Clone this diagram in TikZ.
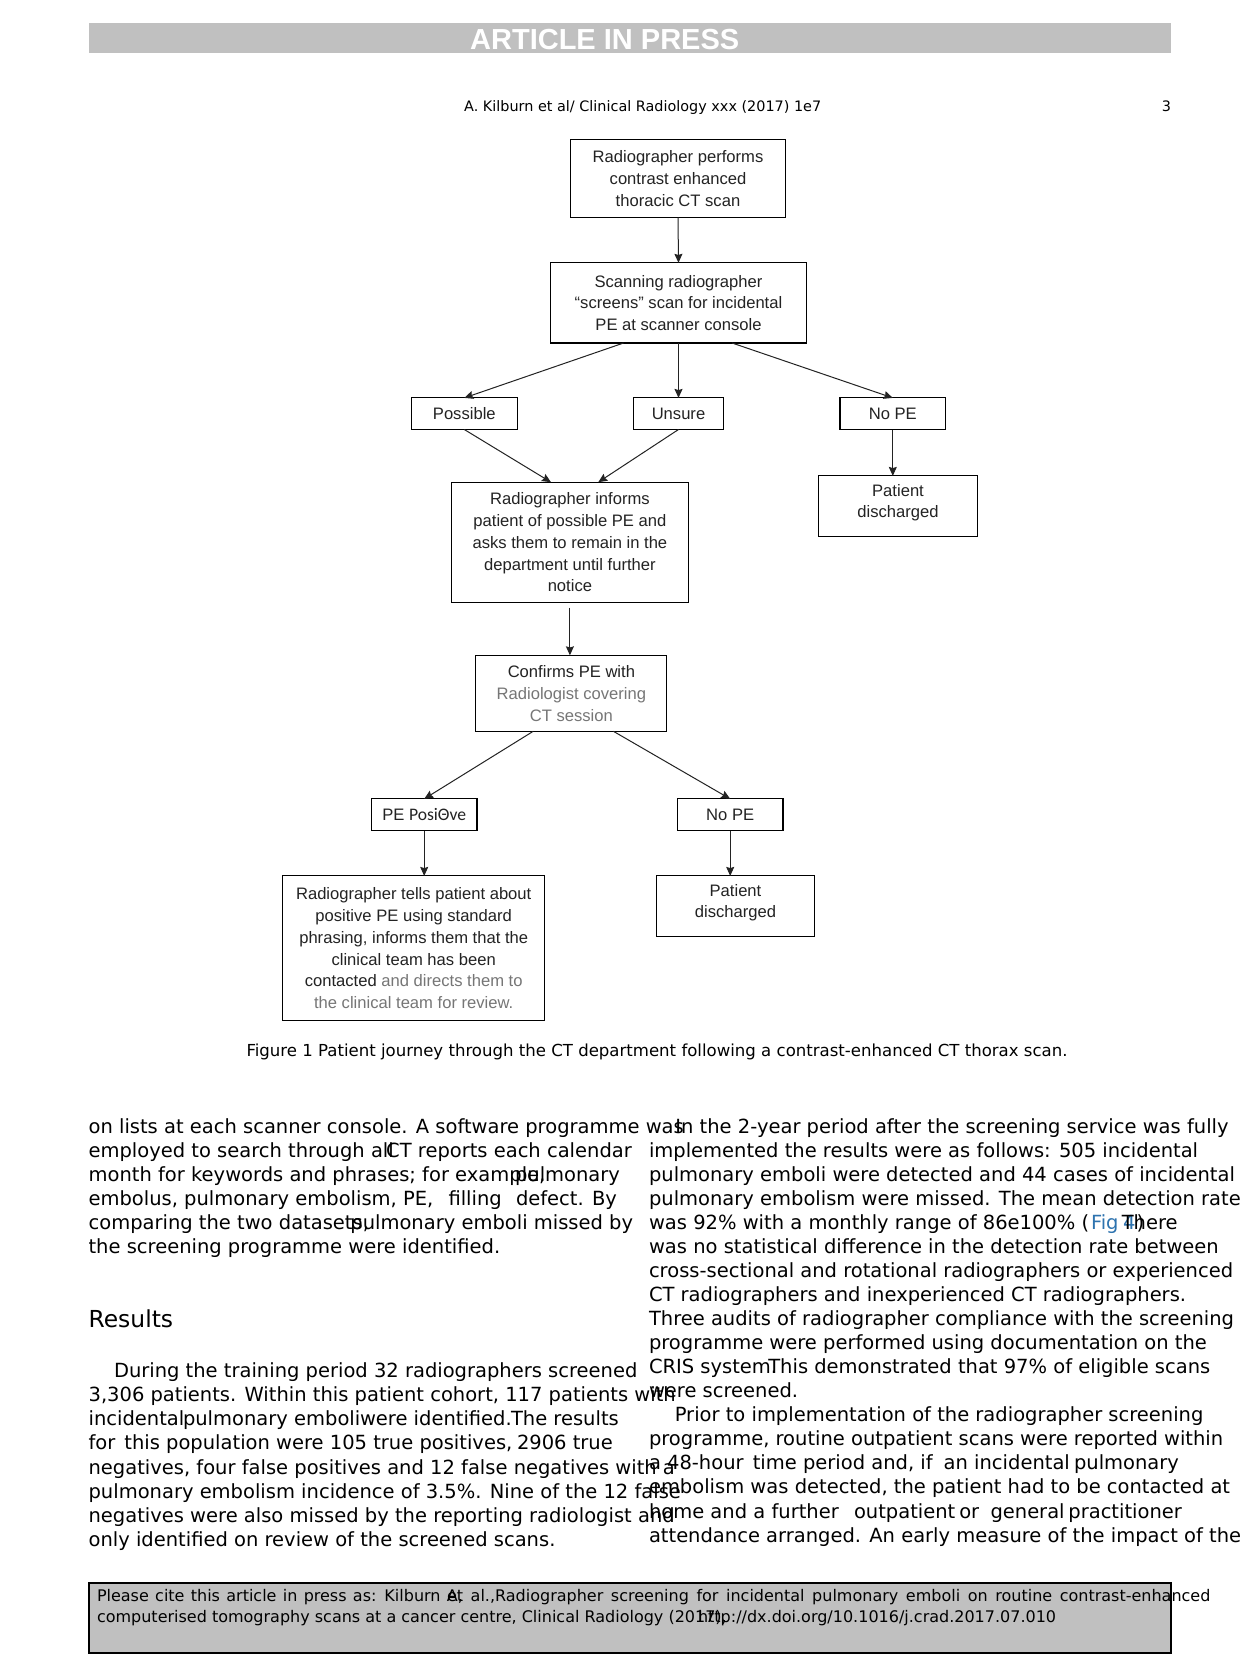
\documentclass[tikz,border=0pt]{standalone}
\usepackage{fontspec}
\setmainfont{DejaVu Sans}
\newfontfamily\flowfont{Liberation Sans}
\newfontfamily\calfont{Carlito}
\usepackage{xcolor}
\usepackage{tikz}
\usetikzlibrary{arrows.meta, positioning, calc}
\definecolor{barGray}{RGB}{192,192,192}
\definecolor{boxText}{RGB}{35,35,35}
\definecolor{softText}{RGB}{118,118,118}
\definecolor{linkBlue}{RGB}{45,115,175}
\newcommand{\bodysize}{\fontsize{9.75}{12}\selectfont}
\newcommand{\flowsize}{\flowfont\fontsize{8.3}{10.9}\selectfont}
\newcommand{\soft}[1]{\textcolor{softText}{#1}}

\begin{document}
\begin{tikzpicture}[x=0.5pt, y=-0.5pt,
    every node/.style={inner sep=0pt, outer sep=0pt},
    flowbox/.style={draw, line width=0.55pt, align=center, font=\flowsize, text=boxText},
    smallbox/.style={flowbox, minimum width=52.8pt, minimum height=15.8pt},
    endbox/.style={flowbox, minimum width=79.2pt, minimum height=30.1pt, text depth=5pt},
    flowarrow/.style={-{Stealth[length=4.5pt, width=4pt, inset=0.6pt]}, line width=0.5pt, boxText},
    bodyline/.style={anchor=base west, font=\bodysize},
    footline/.style={anchor=base west, font=\fontsize{8}{9.5}\selectfont}]
  \useasboundingbox (0,0) rectangle (1241,1654);
  \fill[white] (0,0) rectangle (1241,1654);
  % --- page header -------------------------------------------------
  \fill[barGray] (88.6,23.2) rectangle (1171.4,52.8);
  \node[anchor=base, text=white, font=\flowfont\bfseries\fontsize{14.5}{16}\selectfont] (press) at (604.7,49) {ARTICLE IN PRESS};
  \node[anchor=base, font=\fontsize{7.2}{8.5}\selectfont] (running) at (642.7,111.5) {A. Kilburn et al/ Clinical Radiology xxx (2017) 1e7};
  \node[anchor=base east, font=\fontsize{7.2}{8.5}\selectfont] (pageno) at (1171,111.5) {3};
  % --- flowchart boxes ---------------------------------------------
  \node[flowbox, minimum width=107.1pt, minimum height=39.1pt] (start) at (678,178.4)
    {Radiographer performs\\contrast enhanced\\thoracic CT scan};
  \node[flowbox, minimum width=127.7pt, minimum height=40.1pt] (scan) at (678.5,302.9)
    {Scanning radiographer\\“screens” scan for incidental\\PE at scanner console};
  \node[smallbox] (possible) at (464.3,413.7) {Possible};
  \node[smallbox, minimum width=45.4pt] (unsure) at (678.5,413.7) {Unsure};
  \node[smallbox] (nope1) at (892.8,413.7) {No PE};
  \node[flowbox, minimum width=118.2pt, minimum height=60.2pt] (informs) at (569.9,542.4)
    {Radiographer informs\\patient of possible PE and\\asks them to remain in the\\department until further\\notice};
  \node[endbox] (dis1) at (898,506) {Patient\\discharged};
  \node[flowbox, minimum width=95.5pt, minimum height=38pt] (confirms) at (571.4,693.3)
    {Confirms PE with\\\soft{Radiologist covering}\\\soft{CT session}};
  \node[smallbox] (pepos) at (424.2,814.7) {PE {\calfont\fontsize{8.8}{10}\selectfont PosiΘve}};
  \node[smallbox] (nope2) at (730.2,814.7) {No PE};
  \node[flowbox, minimum width=130.9pt, minimum height=72.3pt] (tells) at (413.7,948.2)
    {Radiographer tells patient about\\positive PE using standard\\phrasing, informs them that the\\clinical team has been\\contacted \soft{and directs them to}\\\soft{the clinical team for review.}};
  \node[endbox] (dis2) at (735.5,906) {Patient\\discharged};
  % --- flowchart arrows --------------------------------------------
  \draw[flowarrow] (start.south) -- (scan.north);
  \draw[flowarrow] ($(scan.south west)!0.285!(scan.south east)$) -- (possible.north);
  \draw[flowarrow] (scan.south) -- (unsure.north);
  \draw[flowarrow] ($(scan.south west)!0.71!(scan.south east)$) -- (nope1.north);
  \draw[flowarrow] (possible.south) -- ($(informs.north west)!0.42!(informs.north east)$);
  \draw[flowarrow] (unsure.south) -- ($(informs.north west)!0.62!(informs.north east)$);
  \draw[flowarrow] (nope1.south) -- (nope1.south |- dis1.north);
  \draw[flowarrow, shorten <=2.5pt] (informs.south) -- (informs.south |- confirms.north);
  \draw[flowarrow] ($(confirms.south west)!0.30!(confirms.south east)$) -- (pepos.north);
  \draw[flowarrow] ($(confirms.south west)!0.72!(confirms.south east)$) -- (nope2.north);
  \draw[flowarrow] (pepos.south) -- (pepos.south |- tells.north);
  \draw[flowarrow] (nope2.south) -- (nope2.south |- dis2.north);
  % --- caption -----------------------------------------------------
  \node[anchor=base, font=\fontsize{8.28}{10}\selectfont] (caption) at (657,1056.5)
    {Figure 1 Patient journey through the CT department following a contrast-enhanced CT thorax scan.};
  % --- left column -------------------------------------------------
  \node[bodyline] (l1) at (88.6,1133.6) {on lists at each scanner console. A software programme was};
  \node[bodyline] (l2) at (88.6,1157.6) {employed to search through all};
  \node[bodyline] (l2b) at (386.2,1157.6) {CT reports each calendar};
  \node[bodyline] (l3) at (88.6,1181.6) {month for keywords and phrases; for example,};
  \node[bodyline] (l3b) at (515,1181.6) {pulmonary};
  \node[bodyline] (l4) at (88.6,1205.6) {embolus, pulmonary embolism, PE,};
  \node[bodyline] (l4b) at (448.5,1205.6) {filling};
  \node[bodyline] (l4c) at (516,1205.6) {defect. By};
  \node[bodyline] (l5) at (88.6,1229.6) {comparing the two datasets,};
  \node[bodyline] (l5b) at (350.4,1229.6) {pulmonary emboli missed by};
  \node[bodyline] (l6) at (88.6,1253.6) {the screening programme were identified.};
  \node[anchor=base west, font=\fontsize{11.7}{14}\selectfont] (results) at (88.6,1327.6) {Results};
  \node[bodyline] (l7) at (114,1377.3) {During the training period 32 radiographers screened};
  \node[bodyline] (l8) at (88.6,1401.5) {3,306 patients. Within this patient cohort, 117 patients with};
  \node[bodyline] (l9) at (88.6,1425.7) {incidental};
  \node[bodyline] (l9b) at (183,1425.7) {pulmonary emboli};
  \node[bodyline] (l9c) at (360,1425.7) {were identified.};
  \node[bodyline] (l9d) at (511,1425.7) {The results};
  \node[bodyline] (l10) at (88.6,1449.9) {for};
  \node[bodyline] (l10b) at (124.4,1449.9) {this population were 105 true positives,};
  \node[bodyline] (l10c) at (517,1449.9) {2906 true};
  \node[bodyline] (l11) at (88.6,1474.1) {negatives, four false positives and 12 false negatives with a};
  \node[bodyline] (l12) at (88.6,1498.3) {pulmonary embolism incidence of 3.5\%. Nine of the 12 false};
  \node[bodyline] (l13) at (88.6,1522.5) {negatives were also missed by the reporting radiologist and};
  \node[bodyline] (l14) at (88.6,1546.7) {only identified on review of the screened scans.};
  % --- right column ------------------------------------------------
  \node[bodyline] (r1) at (675.4,1133.6) {In the 2-year period after the screening service was fully};
  \node[bodyline] (r2) at (649,1157.6) {implemented the results were as follows: 505 incidental};
  \node[bodyline] (r3) at (649,1181.6) {pulmonary emboli were detected and 44 cases of incidental};
  \node[bodyline] (r4) at (649,1205.7) {pulmonary embolism were missed. The mean detection rate};
  \node[bodyline] (r5) at (649,1229.7) {was 92\% with a monthly range of 86e100\% (};
  \node[bodyline, text=linkBlue] (r5b) at (1091,1229.7) {Fig};
  \node[bodyline, text=linkBlue] (r5c) at (1123,1229.7) {4};
  \node[bodyline] (r5d) at (1136.6,1229.7) {)};
  \node[bodyline] (r5e) at (1121.8,1229.7) {There};
  \node[bodyline] (r6) at (649,1253.7) {was no statistical difference in the detection rate between};
  \node[bodyline] (r7) at (649,1277.7) {cross-sectional and rotational radiographers or experienced};
  \node[bodyline] (r8) at (649,1301.7) {CT radiographers and inexperienced CT radiographers.};
  \node[bodyline] (r9) at (649,1325.8) {Three audits of radiographer compliance with the screening};
  \node[bodyline] (r10) at (649,1349.8) {programme were performed using documentation on the};
  \node[bodyline] (r11) at (649,1373.8) {CRIS system.};
  \node[bodyline] (r11b) at (768.3,1373.8) {This demonstrated that 97\% of eligible scans};
  \node[bodyline] (r12) at (649,1397.8) {were screened.};
  \node[bodyline] (r13) at (674.8,1421.9) {Prior to implementation of the radiographer screening};
  \node[bodyline] (r14) at (649,1445.9) {programme, routine outpatient scans were reported within};
  \node[bodyline] (r15) at (649,1469.9) {a 48-hour};
  \node[bodyline] (r15b) at (752.8,1469.9) {time period and, if};
  \node[bodyline] (r15c) at (943.7,1469.9) {an incidental};
  \node[bodyline] (r15d) at (1074,1469.9) {pulmonary};
  \node[bodyline] (r16) at (649,1493.9) {embolism was detected, the patient had to be contacted at};
  \node[bodyline] (r17) at (649,1518) {home and a further};
  \node[bodyline] (r17b) at (854,1518) {outpatient};
  \node[bodyline] (r17c) at (959.3,1518) {or};
  \node[bodyline] (r17d) at (990.5,1518) {general};
  \node[bodyline] (r17e) at (1068.4,1518) {practitioner};
  \node[bodyline] (r18) at (649,1542) {attendance arranged. An early measure of the impact of the};
  % --- citation footer ---------------------------------------------
  \fill[barGray] (88.6,1583) rectangle (1171.4,1652.6);
  \draw[line width=1pt] (88.6,1583) rectangle (1171.4,1652.6);
  \node[footline] (cite1) at (97,1601.7) {\spaceskip=3.15pt Please cite this article in press as: Kilburn A,};
  \node[footline] (cite1b) at (447,1601.7) {\spaceskip=3.8pt et al.,Radiographer screening for incidental pulmonary emboli on routine contrast-enhanced};
  \node[footline] (cite2) at (97,1622.8) {computerised tomography scans at a cancer centre, Clinical Radiology (2017),};
  \node[footline] (cite2b) at (698,1622.8) {http://dx.doi.org/10.1016/j.crad.2017.07.010};
\end{tikzpicture}
\end{document}
